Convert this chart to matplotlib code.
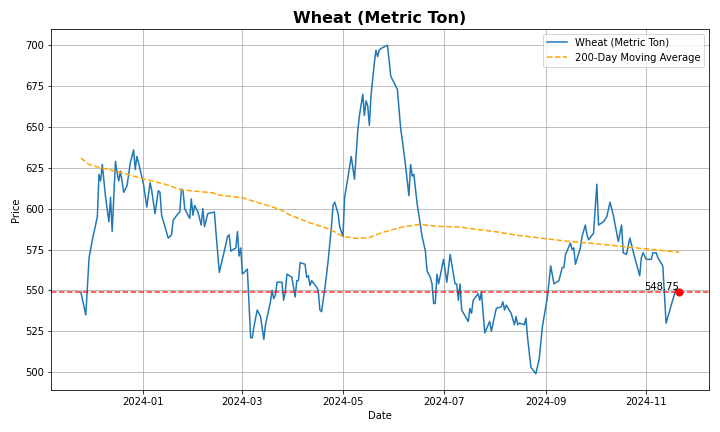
import matplotlib
matplotlib.use("Agg")
import matplotlib.pyplot as plt
import matplotlib.dates as mdates
import pandas as pd

price_dates = [
    "2023-11-24", "2023-11-27", "2023-11-29", "2023-12-01", "2023-12-04", "2023-12-05",
    "2023-12-06", "2023-12-07", "2023-12-09", "2023-12-11", "2023-12-12", "2023-12-13",
    "2023-12-15", "2023-12-16", "2023-12-17", "2023-12-18", "2023-12-20", "2023-12-22",
    "2023-12-24", "2023-12-26", "2023-12-27", "2023-12-28", "2023-12-29", "2024-01-01",
    "2024-01-03", "2024-01-05", "2024-01-06", "2024-01-08", "2024-01-10", "2024-01-11",
    "2024-01-12", "2024-01-14", "2024-01-16", "2024-01-18", "2024-01-19", "2024-01-22",
    "2024-01-23", "2024-01-24", "2024-01-25", "2024-01-26", "2024-01-29", "2024-01-30",
    "2024-01-31", "2024-02-01", "2024-02-03", "2024-02-05", "2024-02-06", "2024-02-07",
    "2024-02-09", "2024-02-13", "2024-02-14", "2024-02-16", "2024-02-19", "2024-02-21",
    "2024-02-22", "2024-02-23", "2024-02-26", "2024-02-27", "2024-02-28", "2024-02-29",
    "2024-03-01", "2024-03-04", "2024-03-06", "2024-03-07", "2024-03-08", "2024-03-10",
    "2024-03-12", "2024-03-14", "2024-03-15", "2024-03-18", "2024-03-19", "2024-03-20",
    "2024-03-21", "2024-03-22", "2024-03-25", "2024-03-26", "2024-03-27", "2024-03-28",
    "2024-03-31", "2024-04-02", "2024-04-03", "2024-04-04", "2024-04-05", "2024-04-08",
    "2024-04-09", "2024-04-10", "2024-04-11", "2024-04-12", "2024-04-15", "2024-04-16",
    "2024-04-17", "2024-04-18", "2024-04-20", "2024-04-22", "2024-04-24", "2024-04-25",
    "2024-04-26", "2024-04-28", "2024-04-29", "2024-05-01", "2024-05-02", "2024-05-04",
    "2024-05-06", "2024-05-08", "2024-05-10", "2024-05-11", "2024-05-13", "2024-05-14",
    "2024-05-15", "2024-05-16", "2024-05-17", "2024-05-18", "2024-05-20", "2024-05-21",
    "2024-05-22", "2024-05-23", "2024-05-24", "2024-05-28", "2024-05-30", "2024-06-03",
    "2024-06-05", "2024-06-06", "2024-06-08", "2024-06-10", "2024-06-11", "2024-06-12",
    "2024-06-13", "2024-06-15", "2024-06-18", "2024-06-20", "2024-06-21", "2024-06-23",
    "2024-06-24", "2024-06-25", "2024-06-26", "2024-06-27", "2024-06-28", "2024-07-01",
    "2024-07-03", "2024-07-05", "2024-07-08", "2024-07-09", "2024-07-10", "2024-07-11",
    "2024-07-12", "2024-07-16", "2024-07-17", "2024-07-18", "2024-07-19", "2024-07-22",
    "2024-07-23", "2024-07-24", "2024-07-26", "2024-07-29", "2024-07-30", "2024-08-02",
    "2024-08-05", "2024-08-06", "2024-08-07", "2024-08-08", "2024-08-11", "2024-08-13",
    "2024-08-14", "2024-08-15", "2024-08-16", "2024-08-19", "2024-08-20", "2024-08-21",
    "2024-08-23", "2024-08-26", "2024-08-28", "2024-08-30", "2024-09-02", "2024-09-04",
    "2024-09-06", "2024-09-09", "2024-09-11", "2024-09-12", "2024-09-13", "2024-09-16",
    "2024-09-17", "2024-09-18", "2024-09-19", "2024-09-22", "2024-09-23", "2024-09-25",
    "2024-09-26", "2024-09-27", "2024-09-30", "2024-10-02", "2024-10-03", "2024-10-06",
    "2024-10-08", "2024-10-10", "2024-10-12", "2024-10-15", "2024-10-17", "2024-10-18",
    "2024-10-20", "2024-10-22", "2024-10-25", "2024-10-28", "2024-10-29", "2024-10-30",
    "2024-11-01", "2024-11-02", "2024-11-04", "2024-11-05", "2024-11-07", "2024-11-08",
    "2024-11-11", "2024-11-13", "2024-11-15", "2024-11-19", "2024-11-21",
]

price_values = [
    549, 535, 570, 581, 595, 621,
    617, 627, 607, 592, 607, 586,
    629, 622, 617, 623, 610, 614,
    628, 636, 624, 632, 628, 615,
    601, 616, 611, 597, 611, 610,
    596, 589, 582, 584, 593, 597,
    598, 612, 611, 600, 594, 606,
    596, 602, 598, 590, 600, 589,
    597, 598, 585, 561, 574, 583,
    584, 574, 576, 586, 571, 576,
    560, 563, 521, 521, 528, 538,
    534, 520, 529, 543, 550, 545,
    547, 555, 555, 544, 549, 560,
    558, 546, 556, 556, 567, 566,
    558, 559, 553, 556, 552, 550,
    538, 537, 551, 568, 589, 602,
    604, 597, 589, 583, 607, 619,
    632, 618, 648, 657, 670, 657,
    666, 663, 651, 669, 689, 697,
    693, 697, 698, 700, 681, 673,
    649, 642, 626, 608, 627, 620,
    621, 603, 583, 574, 562, 558,
    554, 542, 542, 560, 554, 569,
    555, 572, 554, 554, 544, 554,
    538, 531, 539, 536, 544, 548,
    544, 549, 524, 531, 525, 539,
    540, 543, 538, 541, 536, 529,
    534, 529, 530, 529, 533, 521,
    503, 499, 508, 528, 546, 565,
    554, 556, 564, 564, 572, 579,
    575, 576, 566, 576, 583, 590,
    584, 581, 585, 615, 590, 592,
    595, 604, 596, 580, 590, 573,
    572, 582, 570, 559, 570, 573,
    569, 569, 569, 573, 573, 570,
    565, 530, 537, 551, 548.75,
]

ma_dates = [
    "2023-11-24", "2023-11-29", "2023-12-06", "2023-12-17", "2023-12-31", "2024-01-14",
    "2024-01-24", "2024-02-12", "2024-02-16", "2024-03-01", "2024-03-09", "2024-03-24",
    "2024-03-30", "2024-04-11", "2024-04-23", "2024-05-01", "2024-05-09", "2024-05-17",
    "2024-05-25", "2024-06-06", "2024-06-16", "2024-06-28", "2024-07-10", "2024-08-03",
    "2024-08-15", "2024-09-02", "2024-09-13", "2024-10-01", "2024-10-21", "2024-11-02",
    "2024-11-21",
]
ma_values = [
    631, 627, 625, 622.5, 618.5, 615,
    611.5, 609.7, 608.3, 606.7, 604.2, 599.5,
    596, 591.3, 587.5, 583, 581.8, 582.3,
    585.5, 588.8, 590.3, 589.2, 588.8, 585.7,
    583.7, 581.5, 580.2, 578.6, 576.5, 575.3,
    573.4,
]

last_price = 548.75

px = pd.to_datetime(price_dates)
mx = pd.to_datetime(ma_dates)

fig, ax = plt.subplots(figsize=(10, 6), dpi=72)
ax.plot(px, price_values, color="#1f77b4", linewidth=1.5, label="Wheat (Metric Ton)")
ax.plot(mx, ma_values, color="orange", linestyle="--", linewidth=1.5,
        label="200-Day Moving Average")
ax.axhline(last_price, color="red", linestyle="--", linewidth=1.5, alpha=0.8)
ax.scatter([px[-1]], [last_price], color="red", s=50, zorder=5)
ax.text(px[-1], last_price, f"{last_price:.2f}", ha="right", va="bottom", fontsize=10)

ax.set_title("Wheat (Metric Ton)", fontsize=16, fontweight="bold")
ax.set_xlabel("Date")
ax.set_ylabel("Price")
ax.set_yticks([500, 525, 550, 575, 600, 625, 650, 675, 700])
ax.xaxis.set_major_locator(mdates.MonthLocator(bymonth=[1, 3, 5, 7, 9, 11]))
ax.xaxis.set_major_formatter(mdates.DateFormatter("%Y-%m"))
ax.grid(True)
ax.legend(loc="upper right")

fig.tight_layout()
fig.savefig("out.png", dpi=72)
